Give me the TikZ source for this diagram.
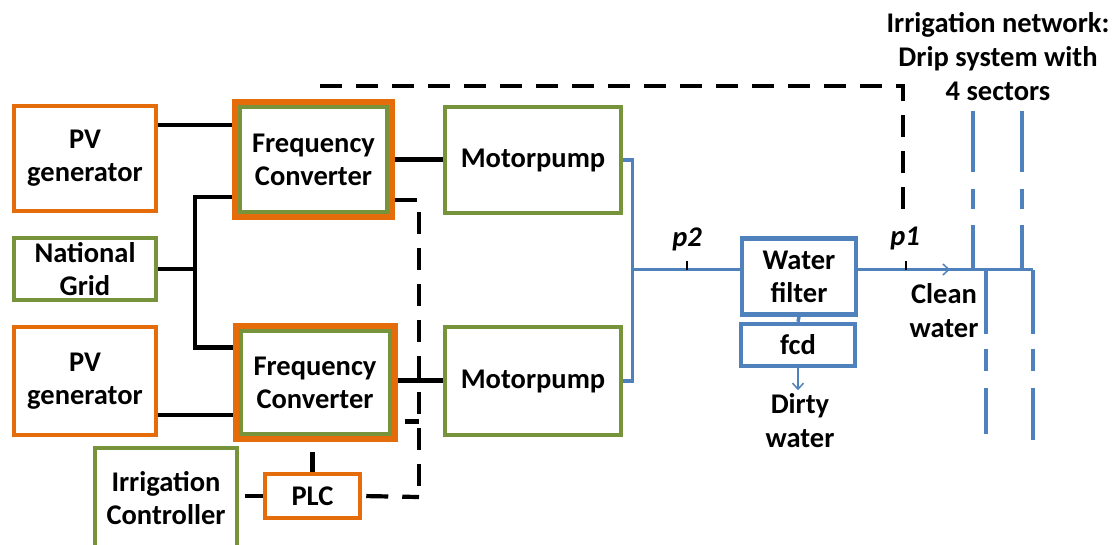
\documentclass[tikz,border=0pt]{standalone}
\usepackage{fontspec}
\setmainfont{Carlito}
\usetikzlibrary{arrows.meta}
\definecolor{pvorange}{HTML}{E46C0A}
\definecolor{boxgreen}{HTML}{77933C}
\definecolor{waterblue}{HTML}{4F81BD}
\tikzset{
  unit/.style={line width=4.5pt, align=center, inner sep=0pt, text=black,
    font=\fontsize{28.5}{33}\selectfont\bfseries},
  srcbox/.style={unit, draw=pvorange},
  grnbox/.style={unit, draw=boxgreen},
  convbox/.style={unit, draw=pvorange, line width=6pt},
  waterbox/.style={unit, draw=waterblue, line width=4.5pt},
  txt/.style={align=center, inner sep=0pt, font=\fontsize{28.5}{34}\selectfont\bfseries},
  plbl/.style={inner sep=0pt, font=\fontsize{28.5}{34}\selectfont\bfseries\itshape},
  pwr/.style={line width=4.2pt, black},
  ctl/.style={line width=4.2pt, black, dash pattern=on 22pt off 14pt},
  pipe/.style={line width=3.5pt, waterblue},
  flow/.style={line width=1.5pt, waterblue, -{Straight Barb[length=6pt,width=11pt]}},
  tick/.style={line width=1.5pt, black},
  riserup/.style={line width=4pt, waterblue, dash pattern=on 45pt off 16pt on 20pt off 17pt on 80pt off 10pt},
  riserdn/.style={line width=4pt, waterblue, dash pattern=on 64pt off 15pt on 22pt off 17pt on 80pt off 10pt}
}
\begin{document}
\begin{tikzpicture}[x=1pt, y=-1pt]
    \useasboundingbox (0,0) rectangle (1116,544);

    % Power sources
    \node[srcbox, minimum width=142, minimum height=105] (pv1) at (85,158.5) {PV\\generator};
    \node[grnbox, minimum width=142, minimum height=62] (grid) at (85,269) {National\\Grid};
    \node[srcbox, minimum width=142, minimum height=108] (pv2) at (85,381) {PV\\generator};

    % Frequency converters (orange frame with green inner frame)
    \node[convbox, minimum width=157, minimum height=115] (fc1) at (313.5,159.5) {Frequency\\Converter};
    \node[convbox, minimum width=159, minimum height=113] (fc2) at (315,382.5) {Frequency\\Converter};
    \draw[boxgreen, line width=4pt] ([shift={(8,8)}]fc1.north west) rectangle ([shift={(-8,-8)}]fc1.south east);
    \draw[boxgreen, line width=4pt] ([shift={(8,8)}]fc2.north west) rectangle ([shift={(-8,-8)}]fc2.south east);

    % Pumps
    \node[grnbox, minimum width=176, minimum height=106] (mp1) at (533,160) {Motorpump};
    \node[grnbox, minimum width=176, minimum height=108] (mp2) at (533,381) {Motorpump};

    % Control
    \node[grnbox, minimum width=142, minimum height=100] (ctrl) at (166,498) {Irrigation\\Controller};
    \node[srcbox, minimum width=95, minimum height=44] (plc) at (312.5,496) {PLC};

    % Filter
    \node[waterbox, minimum width=114, minimum height=76] (filter) at (799,276.5) {Water\\filter};
    \node[waterbox, minimum width=114, minimum height=42] (fcd) at (798,345) {fcd};

    % Texts
    \node[txt] (title) at (998,57) {Irrigation network:\\Drip system with\\4 sectors};
    \node[txt] (clean) at (944,311) {Clean\\water};
    \node[txt] (dirty) at (800,421) {Dirty\\water};

    % Power lines
    \draw[pwr] ([yshift=33.5]pv1.east) -- ([yshift=33.5]pv1.east -| fc1.west);
    \draw[pwr] (fc1.east) -- (fc1.east -| mp1.west);
    \draw[pwr] ([yshift=-37.5]fc1.west) -- ++(-37,0) |- ([yshift=35]fc2.west);
    \draw[pwr] (grid.east) -- ++(37,0);
    \draw[pwr] ([yshift=-34]pv2.east) -- ([yshift=-34]pv2.east -| fc2.west);
    \draw[pwr] ([yshift=2]fc2.east) -- ([yshift=2]fc2.east -| mp2.west);
    \draw[pwr] (plc.north) -- ++(0,-20);
    \draw[pwr] (plc.west) -- ++(-18,0);

    % Control signals
    \coordinate (sig) at (419,497);
    \coordinate (fbk) at (320,86);
    \coordinate (fbke) at (903,218);
    \draw[ctl] ([yshift=-40.5]fc1.east) -| (sig);
    \draw[ctl, dash phase=29pt] ([yshift=-39]fc2.east) -- ([yshift=-39]fc2.east -| sig);
    \draw[ctl, dash phase=32pt] (plc.east) -- (sig);
    \draw[ctl] (fbk) -| (fbke);

    % Water pipes
    \coordinate (mfd) at (632,269.5);
    \coordinate (endp) at (1033,269.5);
    \coordinate (arr) at (950,269.5);
    \draw[pipe] (mp1.east) -- ++(9,0) |- (mp2.east);
    \draw[pipe] (mfd) -- (filter.west |- mfd);
    \draw[pipe] (filter.east |- endp) -- (endp);
    \draw[pipe] (filter.south) -- (fcd.north);
    \draw[flow] ([xshift=-14]arr) -- (arr);
    \draw[flow] (fcd.south) -- ++(0,22);

    % Pressure sensors
    \coordinate (p2pt) at (687,269.5);
    \coordinate (p1pt) at (906,269.5);
    \draw[tick] (p2pt) -- ++(0,-9);
    \draw[tick] (p1pt) -- ++(0,-9);
    \node[plbl] (p2) at (687,239) {p2};
    \node[plbl] (p1) at (905,238) {p1};

    % Sectors
    \coordinate (s1) at (973,269.5);
    \coordinate (s2) at (1022,269.5);
    \coordinate (d1) at (986,269.5);
    \draw[riserup] (s1) -- ++(0,-159);
    \draw[riserup] (s2) -- ++(0,-159);
    \draw[riserdn] (d1) -- ++(0,164);
    \draw[riserdn] (endp) -- ++(0,170);
\end{tikzpicture}
\end{document}
